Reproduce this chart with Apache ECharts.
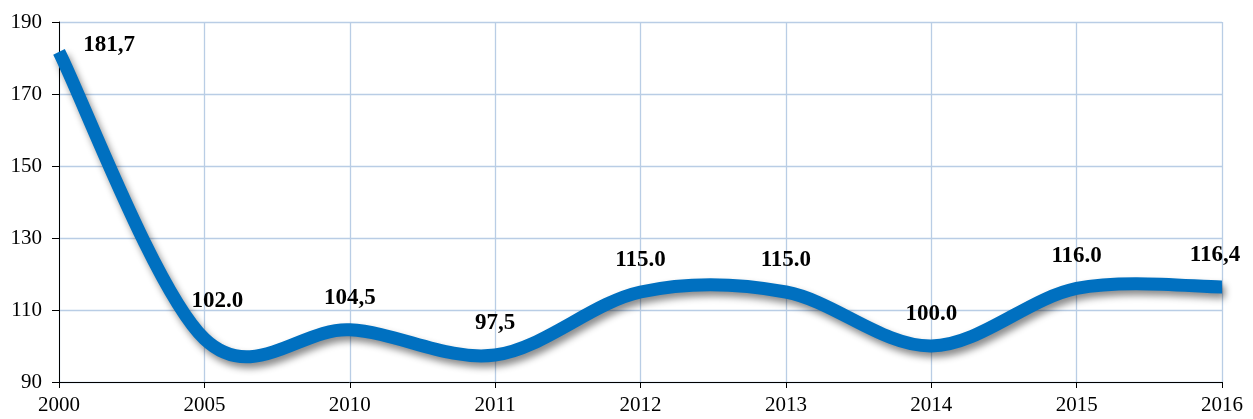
<!DOCTYPE html>
<html>
<head>
<meta charset="utf-8">
<script src="https://cdn.jsdelivr.net/npm/echarts@6/dist/echarts.min.js"></script>
<style>
  html, body { margin: 0; padding: 0; background: #fff; }
  #chart { width: 1253px; height: 419px; }
</style>
</head>
<body>
<div id="chart"></div>
<script>
  // data
  var years = ['2000', '2005', '2010', '2011', '2012', '2013', '2014', '2015', '2016'];
  var values = [181.7, 102.0, 104.5, 97.5, 115.0, 115.0, 100.0, 116.0, 116.4];
  var labelTexts = ['181,7', '102.0', '104,5', '97,5', '115.0', '115.0', '100.0', '116.0', '116,4'];

  var chart = echarts.init(document.getElementById('chart'));

  // label placement tweaks, like excel put them
  var labelOffsets = [[50, 25], [13, -6], [0, 0], [0, 0], [0, 0], [0, 0], [0, 0], [0, 0], [-7, 0]];

  var labelData = values.map(function (v, i) {
    return {
      value: v,
      label: { formatter: labelTexts[i], offset: labelOffsets[i] }
    };
  });

  // excel style smoothed line (catmull-rom through the points, in pixel space)
  function renderCurve(params, api) {
    if (params.dataIndex !== 0) return null;
    var pts = values.map(function (v, i) { return api.coord([i, v]); });
    var n = pts.length;
    var d = 'M' + pts[0][0] + ' ' + pts[0][1];
    for (var i = 0; i < n - 1; i++) {
      var p0 = pts[Math.max(i - 1, 0)];
      var p1 = pts[i];
      var p2 = pts[i + 1];
      var p3 = pts[Math.min(i + 2, n - 1)];
      var c1x = p1[0] + (p2[0] - p0[0]) / 6;
      var c1y = p1[1] + (p2[1] - p0[1]) / 6;
      var c2x = p2[0] - (p3[0] - p1[0]) / 6;
      var c2y = p2[1] - (p3[1] - p1[1]) / 6;
      d += ' C' + c1x + ' ' + c1y + ' ' + c2x + ' ' + c2y + ' ' + p2[0] + ' ' + p2[1];
    }
    return {
      type: 'path',
      shape: { pathData: d },
      style: {
        fill: null,
        stroke: '#0070C0',
        lineWidth: 13,
        lineJoin: 'round',
        shadowColor: 'rgba(0,0,0,0.45)',
        shadowBlur: 7,
        shadowOffsetX: 3,
        shadowOffsetY: 5
      }
    };
  }

  var font = '"Liberation Serif", "Times New Roman", serif';

  var option = {
    backgroundColor: '#fff',
    animation: false,
    grid: { left: 59, right: 31, top: 22, bottom: 37, containLabel: false },
    xAxis: {
      type: 'category',
      data: years,
      boundaryGap: false,
      axisLine: { lineStyle: { color: '#000', width: 1 } },
      axisTick: { show: true, length: 6, alignWithLabel: true, lineStyle: { color: '#000' } },
      axisLabel: { color: '#000', fontFamily: font, fontSize: 21, margin: 13 },
      splitLine: { show: true, lineStyle: { color: '#B9CDE5', width: 1.3 } }
    },
    yAxis: {
      type: 'value',
      min: 90,
      max: 190,
      interval: 20,
      axisLine: { show: true, lineStyle: { color: '#000', width: 1 } },
      axisTick: { show: true, length: 7, lineStyle: { color: '#000' } },
      axisLabel: { color: '#000', fontFamily: font, fontSize: 21, margin: 17 },
      splitLine: { show: true, lineStyle: { color: '#B9CDE5', width: 1.3 } }
    },
    series: [{
      type: 'custom',
      renderItem: renderCurve,
      data: values.map(function (v, i) { return [i, v]; }),
      clip: false,
      z: 2
    }, {
      type: 'line',
      data: labelData,
      symbol: 'circle',
      symbolSize: 1,
      itemStyle: { color: 'transparent' },
      lineStyle: { width: 0, opacity: 0 },
      z: 3,
      label: {
        show: true,
        position: 'top',
        distance: 20,
        color: '#000',
        fontFamily: font,
        fontWeight: 'bold',
        fontSize: 23
      }
    }]
  };

  chart.setOption(option);
</script>
</body>
</html>
